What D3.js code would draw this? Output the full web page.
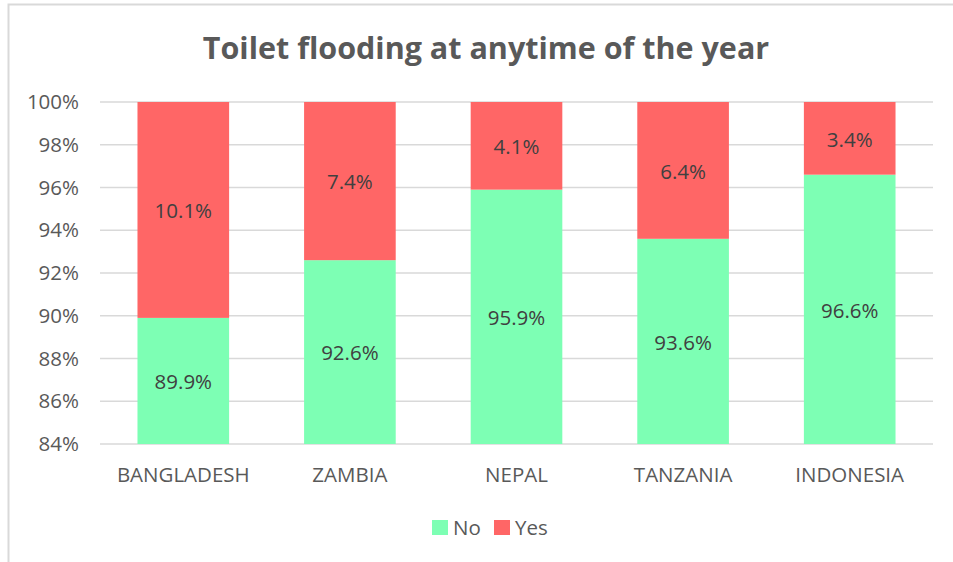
<!DOCTYPE html>
<html>
<head>
<meta charset="utf-8">
<script src="https://cdn.jsdelivr.net/npm/d3@7"></script>
<style>
  html, body { margin: 0; padding: 0; background: #ffffff; }
  svg { display: block; font-family: "Open Sans", sans-serif; }
</style>
</head>
<body>
<svg id="chart" width="953" height="562"></svg>
<script>
// Share of toilets that flood at any time of the year, by country
const countries = ["BANGLADESH", "ZAMBIA", "NEPAL", "TANZANIA", "INDONESIA"];
const noValues = [89.9, 92.6, 95.9, 93.6, 96.6];
const yesValues = [10.1, 7.4, 4.1, 6.4, 3.4];
const seriesNames = ["No", "Yes"];
const yTicks = [84, 86, 88, 90, 92, 94, 96, 98, 100];

const colors = { No: "#7dffb4", Yes: "#ff6666" };
const textColor = "#595959";
const fontFamily = "'Open Sans', sans-serif";
const labelSize = 20.5;

const svg = d3.select("#chart");

// chart frame
svg.append("path")
  .attr("d", "M8.5,562 L8.5,4.5 L953,4.5")
  .attr("fill", "none")
  .attr("stroke", "#d9d9d9")
  .attr("stroke-width", 2);

const x = d3.scaleBand().domain(countries).range([100, 933]).paddingInner(0.45).paddingOuter(0.225);
const y = d3.scaleLinear().domain([84, 100]).range([444, 102]);

// title
svg.append("text")
  .attr("x", 486).attr("y", 59)
  .attr("text-anchor", "middle")
  .attr("font-size", 30.5).attr("font-weight", "bold")
  .attr("fill", textColor)
  .text("Toilet flooding at anytime of the year");

// gridlines
svg.append("g")
  .selectAll("line").data(yTicks).join("line")
  .attr("x1", 100).attr("x2", 933)
  .attr("y1", d => y(d)).attr("y2", d => y(d))
  .attr("stroke", "#d9d9d9").attr("stroke-width", 1.5);

// y axis labels
const yAxis = d3.axisLeft(y).tickValues(yTicks).tickFormat(d => d + "%").tickSize(0).tickPadding(0);
const gy = svg.append("g").attr("transform", "translate(79,0)").call(yAxis);
gy.select(".domain").remove();
gy.selectAll("text").attr("font-size", labelSize).attr("fill", textColor).attr("font-family", fontFamily);

// x axis labels
const xAxis = d3.axisBottom(x).tickSize(0).tickPadding(0);
const gx = svg.append("g").attr("transform", "translate(0,467)").call(xAxis);
gx.select(".domain").remove();
gx.selectAll("text").attr("font-size", labelSize).attr("fill", textColor).attr("font-family", fontFamily);

// stacked bars
const rows = countries.map((c, i) => ({ country: c, No: noValues[i], Yes: yesValues[i] }));
const stack = d3.stack().keys(seriesNames);
const layers = stack(rows);

const barG = svg.append("g");
layers.forEach(layer => {
  const key = layer.key;
  barG.append("g").selectAll("rect").data(layer).join("rect")
    .attr("x", d => x(d.data.country))
    .attr("width", x.bandwidth())
    .attr("y", d => y(Math.min(d[1], 100)))
    .attr("height", d => y(Math.max(d[0], 84)) - y(Math.min(d[1], 100)))
    .attr("fill", colors[key]);

  barG.append("g").selectAll("text").data(layer).join("text")
    .attr("x", d => x(d.data.country) + x.bandwidth() / 2)
    .attr("y", d => (y(Math.max(d[0], 84)) + y(Math.min(d[1], 100))) / 2 + 1)
    .attr("dy", "0.35em")
    .attr("text-anchor", "middle")
    .attr("font-size", labelSize)
    .attr("fill", "#404040")
    .text(d => d.data[key].toFixed(1) + "%");
});

// legend
const legend = svg.append("g").attr("transform", "translate(432,520)");
const legendItems = legend.selectAll("g").data(seriesNames).join("g")
  .attr("transform", (d, i) => `translate(${i * 62},0)`);
legendItems.append("rect").attr("width", 16).attr("height", 15).attr("fill", d => colors[d]);
legendItems.append("text").attr("x", 21).attr("y", 8).attr("dy", "0.35em")
  .attr("font-size", labelSize).attr("fill", textColor).text(d => d);
</script>
</body>
</html>
